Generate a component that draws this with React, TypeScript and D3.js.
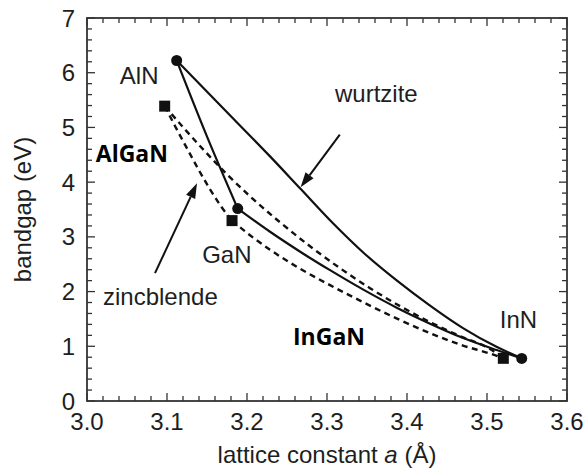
import React from "react";
import * as d3 from "d3";

// ---- data (lattice constant a in Å, bandgap in eV) ----
const wzAlNInN_a = [3.1121, 3.1875, 3.2288, 3.2675, 3.3075, 3.3463, 3.3875, 3.4288, 3.47, 3.5125, 3.5434];
const wzAlNInN_E = [6.223, 5.091, 4.471, 3.869, 3.248, 2.701, 2.199, 1.743, 1.332, 0.985, 0.779];

const wzAlNGaN_a = [3.1121, 3.1494, 3.1884];
const wzAlNGaN_E = [6.223, 4.854, 3.516];

const wzGaNInN_a = [3.1884, 3.2288, 3.2704, 3.3038, 3.3454, 3.3871, 3.4288, 3.4704, 3.5121, 3.5434];
const wzGaNInN_E = [3.516, 3.093, 2.692, 2.391, 2.035, 1.706, 1.414, 1.15, 0.931, 0.779];

const zbAlNInN_a = [3.0971, 3.1225, 3.1475, 3.1725, 3.2038, 3.2413, 3.2788, 3.3163, 3.3538, 3.3913, 3.4288, 3.4663, 3.5038, 3.5204];
const zbAlNInN_E = [5.389, 4.964, 4.562, 4.179, 3.741, 3.266, 2.828, 2.427, 2.062, 1.734, 1.442, 1.186, 0.949, 0.78];

const zbAlNGaN_a = [3.0971, 3.11, 3.125, 3.14, 3.1538, 3.1675, 3.1813];
const zbAlNGaN_E = [5.389, 5.027, 4.617, 4.215, 3.869, 3.558, 3.297];

const zbGaNInN_a = [3.1813, 3.2038, 3.2288, 3.2663, 3.3038, 3.345, 3.3875, 3.4288, 3.47, 3.5038, 3.5204];
const zbGaNInN_E = [3.297, 3.029, 2.765, 2.418, 2.117, 1.807, 1.505, 1.241, 1.013, 0.867, 0.78];

const compoundNames = ["AlN", "GaN", "InN"];
const wurtziteA = [3.1121, 3.1884, 3.5434];
const wurtziteE = [6.223, 3.516, 0.779];
const zincblendeA = [3.0971, 3.1813, 3.5204];
const zincblendeE = [5.389, 3.297, 0.78];

const xTicks = [3.0, 3.1, 3.2, 3.3, 3.4, 3.5, 3.6];
const yTicks = [0, 1, 2, 3, 4, 5, 6, 7];

const labelTexts = ["AlN", "GaN", "InN", "wurtzite", "zincblende"];
const labelA = [3.041, 3.144, 3.516, 3.31, 3.02];
const labelE = [5.785, 2.52, 1.332, 5.456, 1.752];

const boldTexts = ["AlGaN", "InGaN"];
const boldA = [3.011, 3.2575];
const boldE = [4.36, 1.022];

// arrows: from -> to (data units)
const arrowFromA = [3.316, 3.085];
const arrowFromE = [4.87, 2.336];
const arrowToA = [3.267, 3.1375];
const arrowToE = [3.905, 3.978];

const W = 586;
const H = 470;
const M = { left: 87, right: 19, top: 18, bottom: 69 };

export default function App() {
  const x = d3.scaleLinear().domain([3.0, 3.6]).range([M.left, W - M.right]);
  const y = d3.scaleLinear().domain([0, 7]).range([H - M.bottom, M.top]);
  const x0 = M.left, x1 = W - M.right, y0 = H - M.bottom, y1 = M.top;

  const line = d3
    .line<[number, number]>()
    .x((d) => x(d[0]))
    .y((d) => y(d[1]))
    .curve(d3.curveMonotoneX);

  const zip = (a: number[], e: number[]) => a.map((v, i) => [v, e[i]] as [number, number]);

  const solid = [zip(wzAlNInN_a, wzAlNInN_E), zip(wzAlNGaN_a, wzAlNGaN_E), zip(wzGaNInN_a, wzGaNInN_E)];
  const dashed = [zip(zbAlNInN_a, zbAlNInN_E), zip(zbAlNGaN_a, zbAlNGaN_E), zip(zbGaNInN_a, zbGaNInN_E)];

  const xMinor = d3.range(0, 31).map((i) => 3.0 + i * 0.02);
  const yMinor = d3.range(0, 36).map((i) => i * 0.2);

  const font = "'Liberation Sans', Arial, Helvetica, sans-serif";
  const txt = "#1e1e1e";
  const axisCol = "#333";

  const arrows = arrowFromA.map((_, i) => {
    const fx = x(arrowFromA[i]), fy = y(arrowFromE[i]);
    const tx = x(arrowToA[i]), ty = y(arrowToE[i]);
    const ang = Math.atan2(ty - fy, tx - fx);
    const L = 15, hw = 5;
    const bx = tx - L * Math.cos(ang), by = ty - L * Math.sin(ang);
    const px = -Math.sin(ang) * hw, py = Math.cos(ang) * hw;
    return { fx, fy, tx, ty, bx, by, pts: `${tx},${ty} ${bx + px},${by + py} ${bx - px},${by - py}` };
  });

  return (
    <svg width={W} height={H} style={{ position: "absolute", left: 0, top: 0, background: "#fff" }} fontFamily={font}>
      {/* ticks inward on all sides */}
      {xMinor.map((v, i) => {
        const major = i % 5 === 0;
        const len = major ? 8 : 5;
        return (
          <g key={"xt" + i} stroke={axisCol} strokeWidth={1.3}>
            <line x1={x(v)} x2={x(v)} y1={y0} y2={y0 - len} />
            <line x1={x(v)} x2={x(v)} y1={y1} y2={y1 + len} />
          </g>
        );
      })}
      {yMinor.map((v, i) => {
        const major = i % 5 === 0;
        const len = major ? 8 : 5;
        return (
          <g key={"yt" + i} stroke={axisCol} strokeWidth={1.3}>
            <line x1={x0} x2={x0 + len} y1={y(v)} y2={y(v)} />
            <line x1={x1} x2={x1 - len} y1={y(v)} y2={y(v)} />
          </g>
        );
      })}
      <rect x={x0} y={y1} width={x1 - x0} height={y0 - y1} fill="none" stroke={axisCol} strokeWidth={1.8} />

      {xTicks.map((v) => (
        <text key={"xl" + v} x={x(v)} y={y0 + 29} textAnchor="middle" fontSize={24} fill={txt}>
          {v.toFixed(1)}
        </text>
      ))}
      {yTicks.map((v) => (
        <text key={"yl" + v} x={x0 - 12} y={y(v)} dy="0.36em" textAnchor="end" fontSize={24} fill={txt}>
          {v}
        </text>
      ))}

      <text x={(x0 + x1) / 2} y={H - 7} textAnchor="middle" fontSize={24} fill={txt}>
        lattice constant <tspan fontStyle="italic">a</tspan> (Å)
      </text>
      <text
        transform={`translate(${31},${(y0 + y1) / 2}) rotate(-90)`}
        textAnchor="middle"
        fontSize={24}
        fill={txt}
      >
        bandgap (eV)
      </text>

      {solid.map((d, i) => (
        <path key={"s" + i} d={line(d) || ""} fill="none" stroke="#111" strokeWidth={2.2} />
      ))}
      {dashed.map((d, i) => (
        <path key={"d" + i} d={line(d) || ""} fill="none" stroke="#111" strokeWidth={2.4} strokeDasharray="6,4.5" />
      ))}

      {compoundNames.map((n, i) => (
        <circle key={"c" + n} cx={x(wurtziteA[i])} cy={y(wurtziteE[i])} r={5.5} fill="#111" />
      ))}
      {compoundNames.map((n, i) => (
        <rect
          key={"q" + n}
          x={x(zincblendeA[i]) - 5.5}
          y={y(zincblendeE[i]) - 5.5}
          width={11}
          height={11}
          fill="#111"
        />
      ))}

      {arrows.map((a, i) => (
        <g key={"a" + i}>
          <line x1={a.fx} y1={a.fy} x2={a.bx} y2={a.by} stroke="#111" strokeWidth={2} />
          <polygon points={a.pts} fill="#111" />
        </g>
      ))}

      {labelTexts.map((t, i) => (
        <text key={"lt" + t} x={x(labelA[i])} y={y(labelE[i])} fontSize={24} fill={txt}>
          {t}
        </text>
      ))}
      {boldTexts.map((t, i) => (
        <text
          key={"bt" + t}
          x={x(boldA[i])}
          y={y(boldE[i])}
          fontSize={23}
          fontWeight={700}
          fontFamily="'Open Sans', sans-serif"
          fill="#000"
        >
          {t}
        </text>
      ))}
    </svg>
  );
}
